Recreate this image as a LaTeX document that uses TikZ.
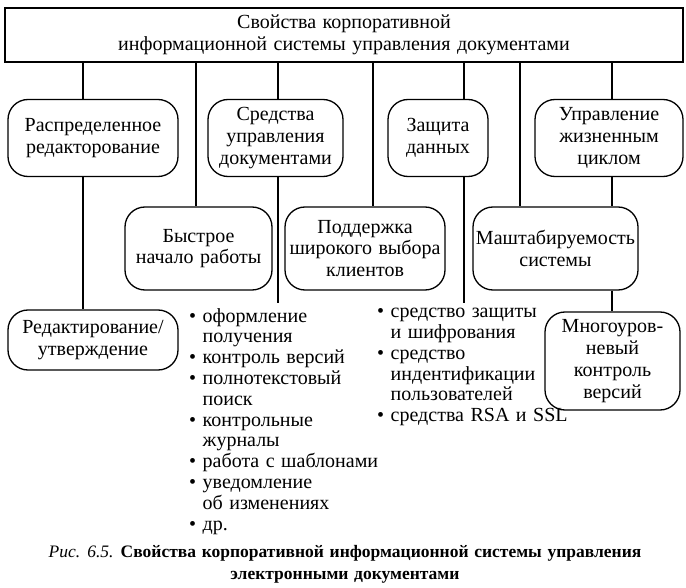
\documentclass[tikz,border=0pt]{standalone}
\usepackage{fontspec}
\setmainfont[WordSpace=1.3]{Liberation Serif}
\newcommand{\fs}{\fontsize{20}{21.8}\selectfont}
\newcommand{\fl}{\fontsize{20}{20.8}\selectfont}
\begin{document}
\begin{tikzpicture}[x=1pt,y=-1pt,
  base/.style={draw, line width=1.3pt, align=center, inner sep=1pt, font=\fs},
  topbox/.style={base},
  rbox/.style={base, rounded corners=20pt},
  conn/.style={line width=1.3pt},
  list/.style={anchor=north west, align=left, inner sep=0pt, font=\fl},
  captext/.style={align=center, font=\fontsize{17.5}{22}\selectfont}]
\useasboundingbox (0,0) rectangle (686,588);
\node[topbox, minimum width=678pt, minimum height=54pt] (top) at (344,35)
  {Свойства корпоративной\\информационной системы управления документами};
\node[rbox, minimum width=170pt, minimum height=77pt] (A) at (93,138) {Распределенное\\редакторование};
\node[rbox, minimum width=135pt, minimum height=77pt] (B) at (275.5,138) {Средства\\управления\\документами};
\node[rbox, minimum width=100pt, minimum height=77pt] (C) at (438,138) {Защита\\данных};
\node[rbox, minimum width=148pt, minimum height=77pt] (D) at (609,138) {Управление\\жизненным\\циклом};
\node[rbox, minimum width=147pt, minimum height=83pt] (E) at (198.5,248.5) {Быстрое\\начало работы};
\node[rbox, minimum width=160pt, minimum height=83pt] (F) at (365,248.5) {Поддержка\\широкого выбора\\клиентов};
\node[rbox, minimum width=165pt, minimum height=83pt] (G) at (555.5,248.5) {Маштабируемость\\системы};
\node[rbox, minimum width=170pt, minimum height=60pt] (H) at (93,340) {Редактирование/\\утверждение};
\node[rbox, minimum width=135pt, minimum height=98pt] (I) at (612.5,361) {Многоуров-\\невый\\контроль\\версий};
\node[list] (L1) at (189,308) {• оформление\\\phantom{• }получения\\• контроль версий\\• полнотекстовый\\\phantom{• }поиск\\• контрольные\\\phantom{• }журналы\\• работа с шаблонами\\• уведомление\\\phantom{• }об изменениях\\• др.};
\node[list] (L2) at (377,308) {• средство защиты\\\phantom{• }и шифрования\\• средство\\\phantom{• }индентификации\\\phantom{• }пользователей\\• средства RSA и SSL};
\node[captext] (capt) at (345,564) {\textit{Рис. 6.5.} \textbf{Свойства корпоративной информационной системы управления}\\\textbf{электронными документами}};
\coordinate (xa) at (83,0);
\coordinate (xb) at (196,0);
\coordinate (xc) at (278,0);
\coordinate (xd) at (373,0);
\coordinate (xe) at (464,0);
\coordinate (xf) at (520,0);
\coordinate (xg) at (612,0);
\coordinate (e1) at (278,303);
\coordinate (e2) at (464,303);
\draw[conn] (xa |- top.south) -- (xa |- A.north);
\draw[conn] (xa |- A.south) -- (xa |- H.north);
\draw[conn] (xb |- top.south) -- (xb |- E.north);
\draw[conn] (xc |- top.south) -- (xc |- B.north);
\draw[conn] (xc |- B.south) -- (e1);
\draw[conn] (xd |- top.south) -- (xd |- F.north);
\draw[conn] (xe |- top.south) -- (xe |- C.north);
\draw[conn] (xe |- C.south) -- (e2);
\draw[conn] (xf |- top.south) -- (xf |- G.north);
\draw[conn] (xg |- top.south) -- (xg |- D.north);
\draw[conn] (xg |- D.south) -- (xg |- G.north);
\draw[conn] (xg |- G.south) -- (xg |- I.north);
\end{tikzpicture}
\end{document}
